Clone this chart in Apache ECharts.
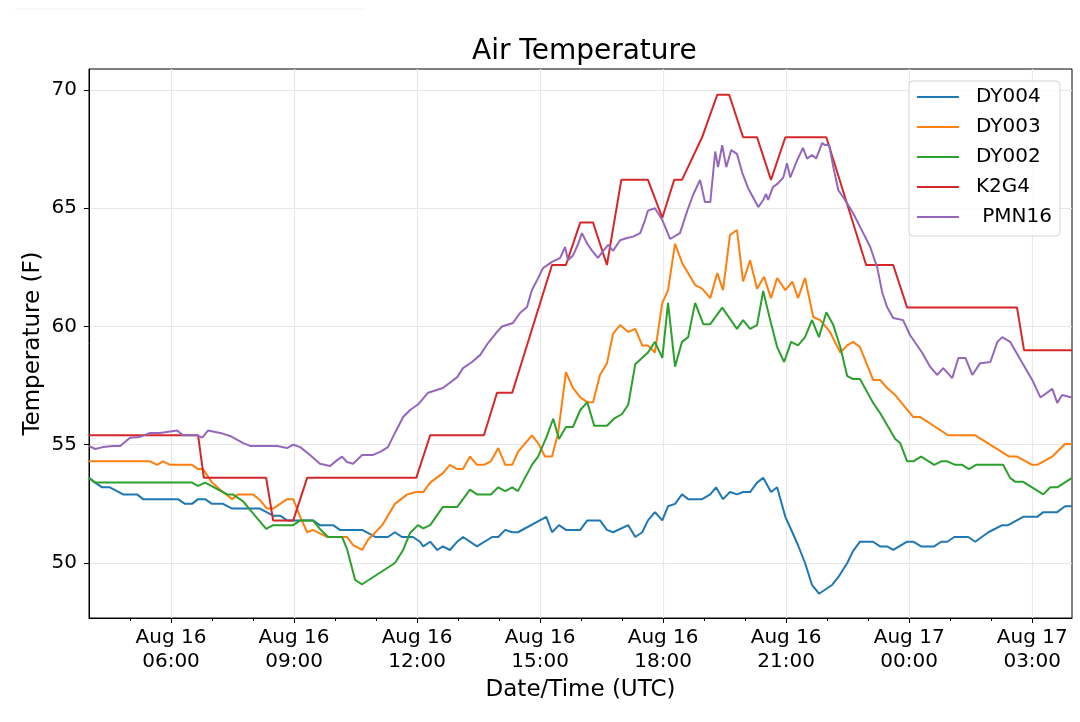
<!DOCTYPE html>
<html lang="en">
<head>
    <meta charset="UTF-8">
    <title>Air Temperature</title>
    <style>
        body,html{
            margin: 0;
            height: 100%;
            width: 100%;
            background: #fff;
        }
    </style>
</head>
<body>

<div id="main" style="height: 722px; width:1080px;"></div>
<script src="https://cdn.jsdelivr.net/npm/echarts@6/dist/echarts.min.js"></script>
<script>
    // values are [hours since Aug 16 00:00 UTC, temperature F]
    var dy004 = [[4.00,53.6],[4.15,53.4],[4.32,53.2],[4.51,53.2],[4.83,52.9],[5.17,52.9],[5.32,52.7],[6.17,52.7],
        [6.34,52.5],[6.51,52.5],[6.66,52.7],[6.83,52.7],[7.00,52.5],[7.27,52.5],[7.49,52.3],[8.17,52.3],[8.49,52.0],
        [8.66,52.0],[8.83,51.8],[9.46,51.8],[9.63,51.6],[9.95,51.6],[10.12,51.4],[10.66,51.4],[10.98,51.1],[11.29,51.1],
        [11.46,51.3],[11.63,51.1],[11.90,51.1],[12.07,50.9],[12.15,50.7],[12.32,50.9],[12.49,50.55],[12.63,50.7],
        [12.80,50.55],[12.98,50.9],[13.12,51.1],[13.46,50.7],[13.83,51.1],[13.98,51.1],[14.15,51.4],[14.32,51.3],
        [14.46,51.3],[15.15,51.95],[15.29,51.3],[15.46,51.6],[15.63,51.4],[15.98,51.4],[16.15,51.8],[16.46,51.8],
        [16.63,51.4],[16.78,51.3],[17.15,51.6],[17.32,51.1],[17.49,51.3],[17.63,51.8],[17.80,52.15],[17.98,51.8],
        [18.12,52.4],[18.29,52.5],[18.46,52.9],[18.61,52.7],[18.95,52.7],[19.15,52.9],[19.29,53.2],[19.46,52.7],
        [19.63,53.0],[19.80,52.9],[19.95,53.0],[20.12,53.0],[20.29,53.4],[20.44,53.6],[20.63,53.0],[20.78,53.2],
        [20.98,51.95],[21.15,51.3],[21.29,50.75],[21.46,50.0],[21.63,49.07],[21.80,48.7],[22.12,49.07],[22.27,49.4],
        [22.49,50.0],[22.63,50.5],[22.80,50.9],[23.12,50.9],[23.29,50.7],[23.46,50.7],[23.61,50.55],[23.95,50.9],
        [24.10,50.9],[24.29,50.7],[24.61,50.7],[24.78,50.9],[24.93,50.9],[25.10,51.1],[25.44,51.1],[25.61,50.9],
        [25.93,51.3],[26.27,51.6],[26.41,51.6],[26.78,51.95],[27.12,51.95],[27.27,52.15],[27.61,52.15],[27.80,52.4],
        [27.97,52.4]];

    var dy003 = [[4.00,54.3],[5.49,54.3],[5.66,54.15],[5.80,54.3],[5.98,54.15],[6.51,54.15],[6.66,53.97],[6.78,53.97],
        [7.00,53.4],[7.20,53.1],[7.49,52.7],[7.63,52.9],[8.00,52.9],[8.17,52.66],[8.34,52.3],[8.49,52.3],[8.66,52.5],
        [8.83,52.7],[8.98,52.7],[9.15,51.95],[9.32,51.3],[9.46,51.4],[9.80,51.1],[10.29,51.1],[10.44,50.76],
        [10.66,50.55],[10.80,50.97],[11.15,51.6],[11.46,52.5],[11.76,52.9],[11.98,53.0],[12.15,53.0],[12.32,53.4],
        [12.63,53.8],[12.80,54.15],[12.98,53.97],[13.12,53.97],[13.29,54.5],[13.46,54.15],[13.63,54.15],[13.80,54.3],
        [13.98,54.86],[14.15,54.15],[14.32,54.15],[14.46,54.7],[14.80,55.4],[14.95,55.07],[15.12,54.5],[15.29,54.5],
        [15.44,55.5],[15.63,58.07],[15.80,57.4],[15.98,57.0],[16.15,56.8],[16.29,56.8],[16.46,57.95],[16.63,58.45],
        [16.78,59.7],[16.95,60.06],[17.15,59.77],[17.32,59.9],[17.49,59.2],[17.63,59.2],[17.80,58.9],[17.98,61.0],
        [18.12,61.54],[18.29,63.5],[18.46,62.7],[18.78,61.75],[18.95,61.6],[19.15,61.2],[19.32,62.26],[19.46,61.54],
        [19.63,63.87],[19.80,64.08],[19.95,61.9],[20.12,62.8],[20.29,61.6],[20.46,62.1],[20.63,61.2],[20.78,62.05],
        [20.98,61.54],[21.15,61.9],[21.29,61.2],[21.46,62.05],[21.66,60.4],[21.83,60.27],[22.07,59.77],[22.32,58.9],
        [22.49,59.2],[22.63,59.35],[22.80,59.13],[23.12,57.74],[23.29,57.74],[23.46,57.4],[23.66,57.1],[24.10,56.17],
        [24.27,56.17],[24.95,55.4],[25.61,55.4],[26.44,54.5],[26.63,54.5],[27.00,54.15],[27.12,54.15],[27.49,54.5],
        [27.80,55.03],[27.97,55.03]];

    var dy002 = [[4.00,53.6],[4.15,53.4],[6.51,53.4],[6.66,53.26],[6.83,53.4],[7.37,52.9],[7.51,52.9],[7.76,52.6],
        [8.00,52.1],[8.32,51.44],[8.49,51.6],[8.98,51.6],[9.15,51.8],[9.46,51.8],[9.63,51.44],[9.83,51.1],[10.17,51.1],
        [10.29,50.6],[10.49,49.28],[10.66,49.1],[11.46,50.0],[11.66,50.55],[11.83,51.27],[12.02,51.6],[12.15,51.46],
        [12.32,51.6],[12.63,52.37],[12.98,52.37],[13.29,53.1],[13.46,52.9],[13.80,52.9],[13.98,53.2],[14.15,53.04],
        [14.32,53.2],[14.46,53.04],[14.80,54.15],[14.95,54.5],[15.15,55.3],[15.32,56.1],[15.46,55.24],[15.63,55.75],
        [15.80,55.75],[15.98,56.47],[16.15,56.8],[16.32,55.8],[16.63,55.8],[16.80,56.1],[17.00,56.3],[17.15,56.7],
        [17.32,58.4],[17.63,58.9],[17.80,59.35],[17.98,58.67],[18.12,61.0],[18.29,58.3],[18.46,59.35],[18.61,59.55],
        [18.78,61.0],[18.98,60.1],[19.15,60.1],[19.44,60.8],[19.80,59.9],[19.95,60.27],[20.12,59.9],[20.29,60.06],
        [20.44,61.5],[20.61,60.27],[20.78,59.13],[20.95,58.5],[21.12,59.35],[21.29,59.2],[21.46,59.55],[21.63,60.27],
        [21.80,59.55],[21.98,60.6],[22.15,60.06],[22.32,59.13],[22.49,57.9],[22.63,57.78],[22.80,57.78],[23.12,56.77],
        [23.29,56.34],[23.66,55.24],[23.78,55.07],[23.95,54.3],[24.10,54.3],[24.29,54.5],[24.61,54.15],[24.78,54.3],
        [24.93,54.3],[25.12,54.15],[25.29,54.15],[25.46,53.97],[25.63,54.15],[26.29,54.15],[26.46,53.6],[26.59,53.43],
        [26.78,53.43],[27.27,52.9],[27.44,53.2],[27.61,53.2],[27.97,53.6]];

    var k2g4 = [[4.00,55.4],[6.66,55.4],[6.80,53.6],[8.32,53.6],[8.49,51.8],[8.98,51.8],[9.32,53.6],[11.98,53.6],
        [12.32,55.4],[13.63,55.4],[13.95,57.2],[14.32,57.2],[15.29,62.6],[15.63,62.6],[15.98,64.4],[16.29,64.4],
        [16.63,62.6],[16.98,66.2],[17.63,66.2],[17.98,64.6],[18.27,66.2],[18.46,66.2],[18.95,68.0],[19.32,69.8],
        [19.61,69.8],[19.95,68.0],[20.29,68.0],[20.63,66.2],[20.98,68.0],[21.98,68.0],[22.95,62.6],[23.61,62.6],
        [23.95,60.8],[26.63,60.8],[26.80,59.0],[27.97,59.0]];

    var pmn16 = [[4.00,54.95],[4.15,54.82],[4.34,54.9],[4.59,54.95],[4.76,54.95],[5.00,55.3],[5.24,55.33],[5.49,55.5],
        [5.73,55.5],[6.15,55.6],[6.29,55.4],[6.63,55.4],[6.76,55.3],[6.90,55.6],[7.20,55.5],[7.44,55.37],[7.76,55.07],
        [7.93,54.95],[8.59,54.95],[8.83,54.86],[8.98,55.0],[9.15,54.9],[9.39,54.57],[9.63,54.2],[9.88,54.1],
        [10.05,54.35],[10.17,54.5],[10.29,54.27],[10.44,54.2],[10.66,54.57],[10.93,54.57],[11.10,54.7],[11.29,54.9],
        [11.46,55.5],[11.66,56.17],[11.83,56.47],[12.02,56.7],[12.27,57.2],[12.63,57.4],[12.98,57.86],[13.12,58.24],
        [13.34,58.5],[13.54,58.8],[13.73,59.3],[13.95,59.77],[14.07,60.0],[14.34,60.15],[14.51,60.57],[14.68,60.82],
        [14.80,61.54],[14.93,61.97],[15.07,62.47],[15.29,62.73],[15.49,62.9],[15.61,63.36],[15.68,62.8],[15.80,63.0],
        [15.93,63.5],[16.02,63.95],[16.15,63.5],[16.27,63.2],[16.41,62.9],[16.54,63.2],[16.66,63.45],[16.78,63.2],
        [16.95,63.65],[17.12,63.74],[17.27,63.8],[17.44,63.95],[17.56,64.5],[17.63,64.9],[17.80,65.0],[17.98,64.5],
        [18.17,63.7],[18.41,63.95],[18.59,64.9],[18.73,65.56],[18.90,66.2],[19.02,65.26],[19.15,65.26],[19.27,67.4],
        [19.34,66.74],[19.44,67.67],[19.54,66.74],[19.66,67.46],[19.80,67.3],[19.93,66.5],[20.07,65.86],[20.32,65.05],
        [20.44,65.35],[20.51,65.6],[20.56,65.35],[20.68,65.9],[20.80,66.05],[20.93,66.3],[21.02,66.9],[21.10,66.3],
        [21.27,67.04],[21.41,67.55],[21.51,67.1],[21.63,67.25],[21.73,67.1],[21.88,67.76],[21.95,67.67],[22.05,67.67],
        [22.15,66.74],[22.27,65.77],[22.49,65.2],[22.63,64.8],[22.88,63.95],[23.05,63.36],[23.22,62.5],[23.34,61.46],
        [23.46,60.82],[23.61,60.36],[23.85,60.27],[24.02,59.64],[24.32,58.88],[24.51,58.3],[24.68,57.95],[24.83,58.24],
        [25.05,57.82],[25.20,58.67],[25.37,58.67],[25.54,57.95],[25.73,58.45],[25.98,58.5],[26.15,59.35],[26.27,59.55],
        [26.46,59.35],[26.71,58.6],[27.00,57.74],[27.20,57.0],[27.49,57.36],[27.61,56.77],[27.73,57.1],[27.97,57.0]];

    var seriesNames = ['DY004', 'DY003', 'DY002', 'K2G4', ' PMN16'];
    var seriesColors = ['#1f77b4', '#ff7f0e', '#2ca02c', '#d62728', '#9467bd'];
    var yTicks = [50, 55, 60, 65, 70];
    var majorTickHours = [6, 9, 12, 15, 18, 21, 24, 27];
    var minorTickHours = [5, 7, 8, 10, 11, 13, 14, 16, 17, 19, 20, 22, 23, 25, 26];

    function pad(n) { return n < 10 ? '0' + n : '' + n; }
    // hour offset -> "Aug 16\n06:00"
    function hourLabel(h) {
        var day = 16 + Math.floor(h / 24);
        var hh = Math.round(h) % 24;
        return 'Aug ' + day + '\n' + pad(hh) + ':00';
    }

    var xMin = 4, xMax = 27.97;
    var allData = [dy004, dy003, dy002, k2g4, pmn16];

    var myChart = echarts.init(document.getElementById('main'));
    var font = 'DejaVu Sans';

    myChart.setOption({
        animation: false,
        backgroundColor: '#fff',
        title: {
            text: 'Air Temperature',
            left: 467,
            top: 33,
            textStyle: { fontFamily: font, fontSize: 28, fontWeight: 'normal', color: '#000' }
        },
        graphic: [{
            type: 'line',
            shape: { x1: 15, y1: 9, x2: 365, y2: 9 },
            style: { stroke: '#efefef', lineWidth: 1 }
        }],
        legend: {
            orient: 'vertical',
            right: 20,
            top: 81,
            padding: [4, 8, 7, 8],
            icon: 'rect',
            itemWidth: 42,
            itemHeight: 2,
            itemGap: 6,
            borderColor: '#d6d6d6',
            borderWidth: 1,
            borderRadius: 4,
            backgroundColor: 'rgba(255,255,255,0.8)',
            textStyle: { fontFamily: font, fontSize: 20, lineHeight: 24, color: '#000', padding: [0, 0, 0, 12] },
            data: seriesNames
        },
        grid: {
            left: 89, right: 8, top: 69, bottom: 104,
            show: true, borderColor: '#000', borderWidth: 1
        },
        xAxis: [{
            type: 'value',
            min: xMin,
            max: xMax,
            name: 'Date/Time (UTC)',
            nameLocation: 'middle',
            nameGap: 60,
            nameTextStyle: { fontFamily: font, fontSize: 23, color: '#000' },
            axisLine: { show: true, lineStyle: { color: '#000', width: 1 } },
            axisTick: {
                show: true, length: 5, lineStyle: { color: '#000', width: 1 },
                customValues: majorTickHours
            },
            axisLabel: {
                customValues: majorTickHours,
                fontFamily: font, fontSize: 20, color: '#000', margin: 8, lineHeight: 24,
                formatter: hourLabel
            },
            splitLine: { show: true, lineStyle: { color: '#e8e8e8', width: 1.2 } }
        }, {
            type: 'value',
            min: xMin,
            max: xMax,
            position: 'bottom',
            gridIndex: 0,
            axisLine: { show: false },
            axisTick: {
                show: true, length: 3, lineStyle: { color: '#000', width: 1 },
                customValues: minorTickHours
            },
            axisLabel: { show: false },
            splitLine: { show: false }
        }],
        yAxis: {
            type: 'value',
            min: 47.674,
            max: 70.888,
            name: 'Temperature (F)',
            nameLocation: 'middle',
            nameGap: 44,
            nameMoveOverlap: false,
            nameTextStyle: { fontFamily: font, fontSize: 23, color: '#000' },
            axisLine: { show: true, lineStyle: { color: '#000', width: 1 } },
            axisTick: {
                show: true, length: 5, lineStyle: { color: '#000', width: 1 },
                customValues: yTicks
            },
            axisLabel: {
                customValues: yTicks,
                fontFamily: font, fontSize: 20, color: '#000', margin: 12
            },
            splitLine: { show: true, lineStyle: { color: '#e8e8e8', width: 1.2 } }
        },
        series: allData.map(function (arr, i) {
            return {
                name: seriesNames[i],
                type: 'line',
                symbol: 'none',
                data: arr,
                lineStyle: { color: seriesColors[i], width: 2 },
                itemStyle: { color: seriesColors[i] },
                z: 2 + i
            };
        })
    });
</script>
</body>
</html>
